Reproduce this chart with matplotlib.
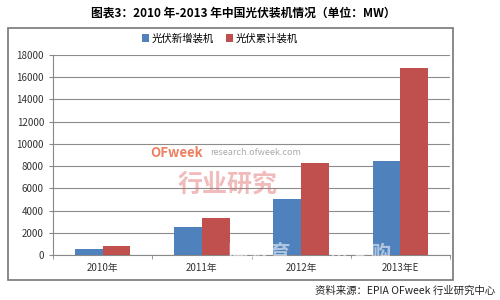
import numpy as np
import matplotlib.pyplot as plt
from matplotlib.patches import Rectangle

plt.rcParams['font.family'] = ['Noto Sans CJK SC', 'DejaVu Sans']

# data (MW)
years = ['2010年', '2011年', '2012年', '2013年E']
new_mw = [500, 2500, 5000, 8500]
total_mw = [800, 3300, 8300, 16800]

blue = '#4F81BD'
red = '#C0504D'

fig = plt.figure(figsize=(5, 3), dpi=100)
ax = fig.add_axes([0.106, 0.15, 0.794, 0.667])

x = np.arange(len(years))
w = 0.28
ax.bar(x - w / 2, new_mw, w, color=blue, label='光伏新增装机', zorder=3)
ax.bar(x + w / 2, total_mw, w, color=red, label='光伏累计装机', zorder=3)

ax.set_xlim(-0.5, len(years) - 0.5)
ax.set_ylim(0, 18000)
ax.set_yticks(np.arange(0, 18001, 2000))
ax.yaxis.grid(True, color='#8c8c8c', linewidth=0.8, zorder=0)
ax.set_xticks(x)
ax.set_xticklabels(years, fontsize=7, color='#333333')
ax.set_xticks(np.arange(-0.5, len(years)), minor=True)
ax.tick_params(axis='x', which='major', length=0, pad=6)
ax.tick_params(axis='x', which='minor', length=3, color='#888888')
ax.tick_params(axis='y', labelsize=7, labelcolor='#333333', length=3, color='#888888')
for s in ['top', 'right']:
    ax.spines[s].set_visible(False)
ax.spines['left'].set_color('#888888')
ax.spines['bottom'].set_color('#888888')

ax.legend(loc='lower center', bbox_to_anchor=(0.42, 1.01), ncol=2, frameon=False,
          fontsize=7.5, handlelength=0.7, handleheight=0.7, columnspacing=1.2,
          handletextpad=0.2)

# chart border
fig.patches.append(Rectangle((0.016, 0.067), 0.89, 0.84, transform=fig.transFigure,
                             fill=False, edgecolor='#777777', linewidth=1.2))

fig.text(0.486, 0.955, '图表3：2010 年-2013 年中国光伏装机情况（单位：MW）',
         ha='center', va='center', fontsize=8.5, fontweight='bold')
fig.text(0.99, 0.03, '资料来源：EPIA OFweek 行业研究中心', ha='right', va='center',
         fontsize=7.5, style='italic', color='#222222')

# watermarks
fig.text(0.30, 0.478, 'OFweek', fontsize=9.5, fontweight='bold', style='italic',
         color='#e8603a', alpha=0.8)
fig.text(0.42, 0.482, 'research.ofweek.com', fontsize=6.5, color='#aaaaaa')
fig.text(0.455, 0.385, '行业研究', ha='center', va='center', fontsize=18,
         fontweight='bold', color='#e06a6a', alpha=0.45)
fig.text(0.62, 0.155, '国教育        备采购', ha='center', va='center', fontsize=15,
         fontweight='bold', color='white', alpha=0.55)

fig.savefig('out.png', dpi=100)
